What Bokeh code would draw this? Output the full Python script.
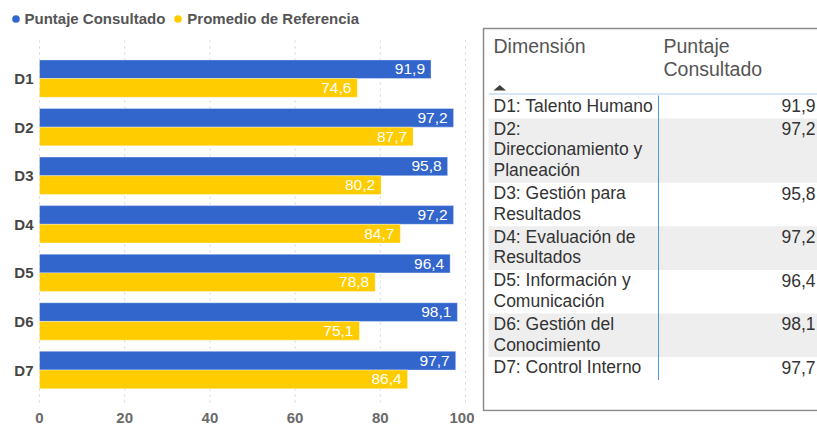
from bokeh.plotting import figure
from bokeh.models import Range1d, FixedTicker, ColumnDataSource, Legend, LegendItem
from bokeh.layouts import row
from bokeh.transform import dodge
from bokeh.core.properties import value
from bokeh.embed import file_html
from bokeh.resources import INLINE

# ---------------- data ----------------
categories = ["D1", "D2", "D3", "D4", "D5", "D6", "D7"]
puntaje = [91.9, 97.2, 95.8, 97.2, 96.4, 98.1, 97.7]
promedio = [74.6, 87.7, 80.2, 84.7, 78.8, 75.1, 86.4]
x_ticks = [0, 20, 40, 60, 80, 100]
series_names = ["Puntaje Consultado", "Promedio de Referencia"]
dimension_names = [
    "D1: Talento Humano",
    "D2:\nDireccionamiento y\nPlaneación",
    "D3: Gestión para\nResultados",
    "D4: Evaluación de\nResultados",
    "D5: Información y\nComunicación",
    "D6: Gestión del\nConocimiento",
    "D7: Control Interno",
]
table_headers = ["Dimensión", "Puntaje\nConsultado"]

# ---------------- styles ----------------
FONT_NAME = "Liberation Sans"
FONT = value(FONT_NAME)
BLUE = "#3366CC"
YELLOW = "#FFCC00"
H = 429
FRAME_BOTTOM = 411          # frame spans 0..411 in both figures
W1 = 474
W2 = 817 - W1


def fmt(v):
    return f"{v:.1f}".replace(".", ",")


# ---------------- bar chart ----------------
idx = list(range(len(categories)))
bh = 0.385
src = ColumnDataSource(dict(
    idx=idx, cat=categories, p=puntaje, r=promedio,
    pl=[fmt(v) for v in puntaje], rl=[fmt(v) for v in promedio],
))

p = figure(width=W1, height=H, x_range=Range1d(-9.155, 102.11),
           y_range=Range1d(6.854, -1.608), output_backend="svg",
           toolbar_location=None, min_border_left=0, min_border_right=0,
           min_border_top=0, min_border_bottom=H - FRAME_BOTTOM,
           y_axis_location=None)
p.outline_line_color = None
p.background_fill_color = "white"
p.grid.visible = False

# dotted vertical gridlines limited to the category band
GRID_TOP, GRID_BOTTOM = -0.784, 6.669
p.segment(x0=x_ticks, x1=x_ticks, y0=GRID_TOP, y1=GRID_BOTTOM,
          line_color="#d4d4d4", line_dash="2 4", line_width=1)

r1 = p.hbar(y=dodge("idx", -bh / 2), left=0, right="p", height=bh, source=src,
            fill_color=BLUE, line_color="white", line_alpha=0.35, line_width=1)
r2 = p.hbar(y=dodge("idx", bh / 2), left=0, right="r", height=bh, source=src,
            fill_color=YELLOW, line_color="white", line_alpha=0.35, line_width=1)

for fld, lbl, off in (("p", "pl", -bh / 2), ("r", "rl", bh / 2)):
    p.text(x=fld, y=dodge("idx", off), text=lbl, source=src, x_offset=-6,
           text_align="right", text_baseline="middle", text_color="white",
           text_font=FONT, text_font_size="15.5px")

# category labels, anchored at the bars' zero baseline
p.text(x=0, y="idx", text="cat", source=src, x_offset=-6, text_align="right",
       text_baseline="middle", text_color="#454545", text_font=FONT,
       text_font_size="15px", text_font_style="bold")

p.xaxis.ticker = FixedTicker(ticks=x_ticks)
p.xaxis.major_label_text_font = FONT_NAME
p.xaxis.major_label_text_font_size = "15px"
p.xaxis.major_label_text_font_style = "bold"
p.xaxis.major_label_text_color = "#6a6a6a"
p.xaxis.major_label_standoff = 1
p.xaxis.axis_line_color = None
p.xaxis.major_tick_line_color = None
p.xaxis.minor_tick_line_color = None
p.xaxis.major_tick_out = 0
p.xaxis.major_tick_in = 0
p.xaxis.minor_tick_out = 0

# legend swatches: zero-size markers (the legend draws its own dot size)
d1 = p.scatter(x="p", y=dodge("idx", -bh / 2), source=src, size=0,
               marker="circle", fill_color=BLUE, line_color=None)
d2 = p.scatter(x="r", y=dodge("idx", bh / 2), source=src, size=0,
               marker="circle", fill_color=YELLOW, line_color=None)
legend = Legend(
    items=[LegendItem(label=series_names[0], renderers=[d1]),
           LegendItem(label=series_names[1], renderers=[d2])],
    orientation="horizontal", location=(5.5, 383.2),
    glyph_width=19, glyph_height=19, label_height=19, label_standoff=-1,
    spacing=3, padding=0, margin=0, background_fill_alpha=0,
    border_line_color=None, label_text_font=FONT_NAME,
    label_text_font_size="15px", label_text_font_style="bold",
    label_text_color="#555555",
)
p.add_layout(legend)

# ---------------- table ----------------
t = figure(width=W2, height=H, x_range=Range1d(0, W2),
           y_range=Range1d(FRAME_BOTTOM, 0), output_backend="svg",
           toolbar_location=None, min_border_left=0, min_border_right=0,
           min_border_top=0, min_border_bottom=H - FRAME_BOTTOM,
           x_axis_location=None, y_axis_location=None)
t.grid.visible = False
t.outline_line_color = None

box_left, box_top, box_bottom = 9, 28, 410
text_x, col2_x, sep_x, val_x = 19, 189, 184, 341
rows_left = 14
head_y0, head_lh = 45.5, 23
body_top, line_h, pad = 95, 20.7, 2.2

# row geometry from the number of wrapped lines of each name
tops, bottoms = [], []
y = body_top
for name in dimension_names:
    n = len(name.split("\n"))
    tops.append(y)
    y += n * line_h + pad
    bottoms.append(y)

shade = [i % 2 == 1 for i in range(len(dimension_names))]
t.quad(left=[rows_left] * sum(shade), right=[W2 + 5] * sum(shade),
       top=[tp for tp, s in zip(tops, shade) if s],
       bottom=[bt for bt, s in zip(bottoms, shade) if s],
       fill_color="#EEEEEE", line_color=None)

# table frame
t.quad(left=[box_left], right=[W2 + 20], top=[box_top], bottom=[box_bottom],
       fill_color=None, line_color="#8a8a8a", line_width=1.5)

# header
t.text(x=[text_x], y=[head_y0], text=[table_headers[0]], text_font=FONT,
       text_font_size="19.5px", text_color="#555555", text_baseline="middle")
hl = table_headers[1].split("\n")
t.text(x=[col2_x] * len(hl), y=[head_y0 + k * head_lh for k in range(len(hl))],
       text=hl, text_font=FONT, text_font_size="19.5px", text_color="#555555",
       text_baseline="middle")
t.patch(x=[text_x, text_x + 12.5, text_x + 6.25], y=[90, 90, 84.5],
        fill_color="#404040", line_color=None)
t.segment(x0=[rows_left], x1=[W2], y0=[body_top - 1.5], y1=[body_top - 1.5],
          line_color="#c8dcf4", line_width=1.5)

# body text
lx, ly, lt = [], [], []
for name, tp in zip(dimension_names, tops):
    for k, ln in enumerate(name.split("\n")):
        lx.append(text_x)
        ly.append(tp + line_h / 2 + k * line_h)
        lt.append(ln)
t.text(x=lx, y=ly, text=lt, text_font=FONT, text_font_size="17.5px",
       text_color="#333333", text_baseline="middle")
t.text(x=[val_x] * len(puntaje), y=[tp + line_h / 2 for tp in tops],
       text=[fmt(v) for v in puntaje], text_font=FONT, text_font_size="17.5px",
       text_color="#333333", text_baseline="middle", text_align="right")

# column separator
t.segment(x0=[sep_x], x1=[sep_x], y0=[body_top], y1=[bottoms[-1]],
          line_color="#4a98e6", line_width=1)

layout = row(p, t)
open("out.html", "w").write(file_html(layout, INLINE))
